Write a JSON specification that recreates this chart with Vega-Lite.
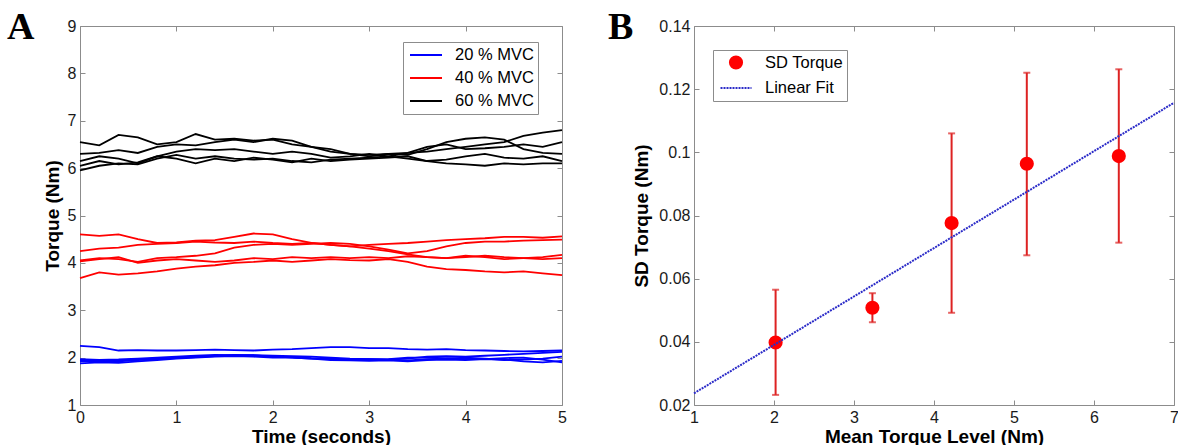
{
"$schema": "https://vega.github.io/schema/vega-lite/v6.json",
"padding": {"left": 6, "top": 8, "right": 0, "bottom": 0},
"background": "white",
"config": {
 "view": {"stroke": "#8c8c8c", "strokeWidth": 1},
 "axis": {"domain": false, "grid": false, "tickColor": "#8c8c8c", "tickSize": -5, "tickWidth": 1, "labelFont": "Liberation Sans", "labelFontSize": 16, "labelColor": "#1a1a1a", "titleFont": "Liberation Sans", "titleFontSize": 19, "titleFontWeight": "bold", "titleColor": "#000000", "labelPadding": 9, "labelFlush": false, "labelOverlap": false},
 "title": {"font": "Liberation Serif", "fontSize": 38, "fontWeight": "bold", "anchor": "start", "frame": "group", "baseline": "alphabetic", "offset": 0, "color": "#000000"},
 "legend": {"labelFont": "Liberation Sans", "labelFontSize": 16.5, "labelColor": "#000000", "strokeColor": "#8c8c8c", "fillColor": "#ffffff", "padding": 4, "labelOffset": 20, "symbolOffset": 10, "rowPadding": 5}
},
"resolve": {
 "scale": {"color": "independent", "fill": "independent", "stroke": "independent", "shape": "independent", "strokeDash": "independent", "size": "independent"},
 "legend": {"color": "independent", "fill": "independent", "stroke": "independent", "shape": "independent", "strokeDash": "independent", "size": "independent"}
},
"datasets": {
 "trq": [
{"t":0,"s":"k1","g":"60","v":6.55},{"t":0.2,"s":"k1","g":"60","v":6.48},{"t":0.4,"s":"k1","g":"60","v":6.7},{"t":0.6,"s":"k1","g":"60","v":6.65},{"t":0.8,"s":"k1","g":"60","v":6.5},{"t":1,"s":"k1","g":"60","v":6.55},{"t":1.2,"s":"k1","g":"60","v":6.72},{"t":1.4,"s":"k1","g":"60","v":6.6},{"t":1.6,"s":"k1","g":"60","v":6.62},{"t":1.8,"s":"k1","g":"60","v":6.58},{"t":2,"s":"k1","g":"60","v":6.6},{"t":2.2,"s":"k1","g":"60","v":6.5},{"t":2.4,"s":"k1","g":"60","v":6.45},{"t":2.6,"s":"k1","g":"60","v":6.4},{"t":2.8,"s":"k1","g":"60","v":6.3},{"t":3,"s":"k1","g":"60","v":6.28},{"t":3.2,"s":"k1","g":"60","v":6.3},{"t":3.4,"s":"k1","g":"60","v":6.32},{"t":3.6,"s":"k1","g":"60","v":6.35},{"t":3.8,"s":"k1","g":"60","v":6.4},{"t":4,"s":"k1","g":"60","v":6.45},{"t":4.2,"s":"k1","g":"60","v":6.5},{"t":4.4,"s":"k1","g":"60","v":6.55},{"t":4.6,"s":"k1","g":"60","v":6.68},{"t":4.8,"s":"k1","g":"60","v":6.75},{"t":5,"s":"k1","g":"60","v":6.8},
{"t":0,"s":"k2","g":"60","v":6.3},{"t":0.2,"s":"k2","g":"60","v":6.32},{"t":0.4,"s":"k2","g":"60","v":6.38},{"t":0.6,"s":"k2","g":"60","v":6.32},{"t":0.8,"s":"k2","g":"60","v":6.45},{"t":1,"s":"k2","g":"60","v":6.5},{"t":1.2,"s":"k2","g":"60","v":6.48},{"t":1.4,"s":"k2","g":"60","v":6.55},{"t":1.6,"s":"k2","g":"60","v":6.6},{"t":1.8,"s":"k2","g":"60","v":6.55},{"t":2,"s":"k2","g":"60","v":6.62},{"t":2.2,"s":"k2","g":"60","v":6.58},{"t":2.4,"s":"k2","g":"60","v":6.45},{"t":2.6,"s":"k2","g":"60","v":6.35},{"t":2.8,"s":"k2","g":"60","v":6.3},{"t":3,"s":"k2","g":"60","v":6.25},{"t":3.2,"s":"k2","g":"60","v":6.3},{"t":3.4,"s":"k2","g":"60","v":6.28},{"t":3.6,"s":"k2","g":"60","v":6.4},{"t":3.8,"s":"k2","g":"60","v":6.55},{"t":4,"s":"k2","g":"60","v":6.62},{"t":4.2,"s":"k2","g":"60","v":6.65},{"t":4.4,"s":"k2","g":"60","v":6.6},{"t":4.6,"s":"k2","g":"60","v":6.4},{"t":4.8,"s":"k2","g":"60","v":6.32},{"t":5,"s":"k2","g":"60","v":6.3},
{"t":0,"s":"k3","g":"60","v":6.15},{"t":0.2,"s":"k3","g":"60","v":6.25},{"t":0.4,"s":"k3","g":"60","v":6.2},{"t":0.6,"s":"k3","g":"60","v":6.1},{"t":0.8,"s":"k3","g":"60","v":6.25},{"t":1,"s":"k3","g":"60","v":6.35},{"t":1.2,"s":"k3","g":"60","v":6.4},{"t":1.4,"s":"k3","g":"60","v":6.38},{"t":1.6,"s":"k3","g":"60","v":6.4},{"t":1.8,"s":"k3","g":"60","v":6.35},{"t":2,"s":"k3","g":"60","v":6.3},{"t":2.2,"s":"k3","g":"60","v":6.35},{"t":2.4,"s":"k3","g":"60","v":6.3},{"t":2.6,"s":"k3","g":"60","v":6.22},{"t":2.8,"s":"k3","g":"60","v":6.25},{"t":3,"s":"k3","g":"60","v":6.3},{"t":3.2,"s":"k3","g":"60","v":6.25},{"t":3.4,"s":"k3","g":"60","v":6.32},{"t":3.6,"s":"k3","g":"60","v":6.45},{"t":3.8,"s":"k3","g":"60","v":6.5},{"t":4,"s":"k3","g":"60","v":6.4},{"t":4.2,"s":"k3","g":"60","v":6.42},{"t":4.4,"s":"k3","g":"60","v":6.45},{"t":4.6,"s":"k3","g":"60","v":6.5},{"t":4.8,"s":"k3","g":"60","v":6.45},{"t":5,"s":"k3","g":"60","v":6.55},
{"t":0,"s":"k4","g":"60","v":5.95},{"t":0.2,"s":"k4","g":"60","v":6.05},{"t":0.4,"s":"k4","g":"60","v":6.1},{"t":0.6,"s":"k4","g":"60","v":6.08},{"t":0.8,"s":"k4","g":"60","v":6.2},{"t":1,"s":"k4","g":"60","v":6.28},{"t":1.2,"s":"k4","g":"60","v":6.2},{"t":1.4,"s":"k4","g":"60","v":6.25},{"t":1.6,"s":"k4","g":"60","v":6.2},{"t":1.8,"s":"k4","g":"60","v":6.18},{"t":2,"s":"k4","g":"60","v":6.2},{"t":2.2,"s":"k4","g":"60","v":6.15},{"t":2.4,"s":"k4","g":"60","v":6.12},{"t":2.6,"s":"k4","g":"60","v":6.18},{"t":2.8,"s":"k4","g":"60","v":6.2},{"t":3,"s":"k4","g":"60","v":6.22},{"t":3.2,"s":"k4","g":"60","v":6.25},{"t":3.4,"s":"k4","g":"60","v":6.2},{"t":3.6,"s":"k4","g":"60","v":6.15},{"t":3.8,"s":"k4","g":"60","v":6.18},{"t":4,"s":"k4","g":"60","v":6.25},{"t":4.2,"s":"k4","g":"60","v":6.3},{"t":4.4,"s":"k4","g":"60","v":6.22},{"t":4.6,"s":"k4","g":"60","v":6.2},{"t":4.8,"s":"k4","g":"60","v":6.25},{"t":5,"s":"k4","g":"60","v":6.15},
{"t":0,"s":"k5","g":"60","v":6.05},{"t":0.2,"s":"k5","g":"60","v":6.15},{"t":0.4,"s":"k5","g":"60","v":6.08},{"t":0.6,"s":"k5","g":"60","v":6.12},{"t":0.8,"s":"k5","g":"60","v":6.25},{"t":1,"s":"k5","g":"60","v":6.2},{"t":1.2,"s":"k5","g":"60","v":6.1},{"t":1.4,"s":"k5","g":"60","v":6.2},{"t":1.6,"s":"k5","g":"60","v":6.15},{"t":1.8,"s":"k5","g":"60","v":6.22},{"t":2,"s":"k5","g":"60","v":6.18},{"t":2.2,"s":"k5","g":"60","v":6.12},{"t":2.4,"s":"k5","g":"60","v":6.2},{"t":2.6,"s":"k5","g":"60","v":6.15},{"t":2.8,"s":"k5","g":"60","v":6.18},{"t":3,"s":"k5","g":"60","v":6.2},{"t":3.2,"s":"k5","g":"60","v":6.22},{"t":3.4,"s":"k5","g":"60","v":6.25},{"t":3.6,"s":"k5","g":"60","v":6.15},{"t":3.8,"s":"k5","g":"60","v":6.1},{"t":4,"s":"k5","g":"60","v":6.08},{"t":4.2,"s":"k5","g":"60","v":6.05},{"t":4.4,"s":"k5","g":"60","v":6.1},{"t":4.6,"s":"k5","g":"60","v":6.08},{"t":4.8,"s":"k5","g":"60","v":6.1},{"t":5,"s":"k5","g":"60","v":6.1},
{"t":0,"s":"r1","g":"40","v":4.6},{"t":0.2,"s":"r1","g":"40","v":4.57},{"t":0.4,"s":"r1","g":"40","v":4.6},{"t":0.6,"s":"r1","g":"40","v":4.5},{"t":0.8,"s":"r1","g":"40","v":4.42},{"t":1,"s":"r1","g":"40","v":4.43},{"t":1.2,"s":"r1","g":"40","v":4.47},{"t":1.4,"s":"r1","g":"40","v":4.48},{"t":1.6,"s":"r1","g":"40","v":4.55},{"t":1.8,"s":"r1","g":"40","v":4.62},{"t":2,"s":"r1","g":"40","v":4.6},{"t":2.2,"s":"r1","g":"40","v":4.5},{"t":2.4,"s":"r1","g":"40","v":4.42},{"t":2.6,"s":"r1","g":"40","v":4.38},{"t":2.8,"s":"r1","g":"40","v":4.35},{"t":3,"s":"r1","g":"40","v":4.3},{"t":3.2,"s":"r1","g":"40","v":4.25},{"t":3.4,"s":"r1","g":"40","v":4.18},{"t":3.6,"s":"r1","g":"40","v":4.12},{"t":3.8,"s":"r1","g":"40","v":4.1},{"t":4,"s":"r1","g":"40","v":4.12},{"t":4.2,"s":"r1","g":"40","v":4.15},{"t":4.4,"s":"r1","g":"40","v":4.12},{"t":4.6,"s":"r1","g":"40","v":4.1},{"t":4.8,"s":"r1","g":"40","v":4.08},{"t":5,"s":"r1","g":"40","v":4.1},
{"t":0,"s":"r2","g":"40","v":4.25},{"t":0.2,"s":"r2","g":"40","v":4.3},{"t":0.4,"s":"r2","g":"40","v":4.32},{"t":0.6,"s":"r2","g":"40","v":4.38},{"t":0.8,"s":"r2","g":"40","v":4.4},{"t":1,"s":"r2","g":"40","v":4.42},{"t":1.2,"s":"r2","g":"40","v":4.45},{"t":1.4,"s":"r2","g":"40","v":4.43},{"t":1.6,"s":"r2","g":"40","v":4.42},{"t":1.8,"s":"r2","g":"40","v":4.45},{"t":2,"s":"r2","g":"40","v":4.42},{"t":2.2,"s":"r2","g":"40","v":4.4},{"t":2.4,"s":"r2","g":"40","v":4.42},{"t":2.6,"s":"r2","g":"40","v":4.38},{"t":2.8,"s":"r2","g":"40","v":4.35},{"t":3,"s":"r2","g":"40","v":4.38},{"t":3.2,"s":"r2","g":"40","v":4.4},{"t":3.4,"s":"r2","g":"40","v":4.42},{"t":3.6,"s":"r2","g":"40","v":4.45},{"t":3.8,"s":"r2","g":"40","v":4.48},{"t":4,"s":"r2","g":"40","v":4.5},{"t":4.2,"s":"r2","g":"40","v":4.52},{"t":4.4,"s":"r2","g":"40","v":4.55},{"t":4.6,"s":"r2","g":"40","v":4.55},{"t":4.8,"s":"r2","g":"40","v":4.53},{"t":5,"s":"r2","g":"40","v":4.56},
{"t":0,"s":"r3","g":"40","v":4.05},{"t":0.2,"s":"r3","g":"40","v":4.1},{"t":0.4,"s":"r3","g":"40","v":4.08},{"t":0.6,"s":"r3","g":"40","v":4.02},{"t":0.8,"s":"r3","g":"40","v":4.1},{"t":1,"s":"r3","g":"40","v":4.12},{"t":1.2,"s":"r3","g":"40","v":4.15},{"t":1.4,"s":"r3","g":"40","v":4.2},{"t":1.6,"s":"r3","g":"40","v":4.32},{"t":1.8,"s":"r3","g":"40","v":4.38},{"t":2,"s":"r3","g":"40","v":4.4},{"t":2.2,"s":"r3","g":"40","v":4.38},{"t":2.4,"s":"r3","g":"40","v":4.4},{"t":2.6,"s":"r3","g":"40","v":4.42},{"t":2.8,"s":"r3","g":"40","v":4.4},{"t":3,"s":"r3","g":"40","v":4.35},{"t":3.2,"s":"r3","g":"40","v":4.28},{"t":3.4,"s":"r3","g":"40","v":4.2},{"t":3.6,"s":"r3","g":"40","v":4.25},{"t":3.8,"s":"r3","g":"40","v":4.35},{"t":4,"s":"r3","g":"40","v":4.42},{"t":4.2,"s":"r3","g":"40","v":4.45},{"t":4.4,"s":"r3","g":"40","v":4.45},{"t":4.6,"s":"r3","g":"40","v":4.47},{"t":4.8,"s":"r3","g":"40","v":4.48},{"t":5,"s":"r3","g":"40","v":4.49},
{"t":0,"s":"r4","g":"40","v":4.03},{"t":0.2,"s":"r4","g":"40","v":4.08},{"t":0.4,"s":"r4","g":"40","v":4.12},{"t":0.6,"s":"r4","g":"40","v":4.0},{"t":0.8,"s":"r4","g":"40","v":4.05},{"t":1,"s":"r4","g":"40","v":4.08},{"t":1.2,"s":"r4","g":"40","v":4.05},{"t":1.4,"s":"r4","g":"40","v":4.02},{"t":1.6,"s":"r4","g":"40","v":4.05},{"t":1.8,"s":"r4","g":"40","v":4.1},{"t":2,"s":"r4","g":"40","v":4.08},{"t":2.2,"s":"r4","g":"40","v":4.12},{"t":2.4,"s":"r4","g":"40","v":4.1},{"t":2.6,"s":"r4","g":"40","v":4.12},{"t":2.8,"s":"r4","g":"40","v":4.1},{"t":3,"s":"r4","g":"40","v":4.12},{"t":3.2,"s":"r4","g":"40","v":4.1},{"t":3.4,"s":"r4","g":"40","v":4.14},{"t":3.6,"s":"r4","g":"40","v":4.12},{"t":3.8,"s":"r4","g":"40","v":4.1},{"t":4,"s":"r4","g":"40","v":4.15},{"t":4.2,"s":"r4","g":"40","v":4.12},{"t":4.4,"s":"r4","g":"40","v":4.08},{"t":4.6,"s":"r4","g":"40","v":4.1},{"t":4.8,"s":"r4","g":"40","v":4.12},{"t":5,"s":"r4","g":"40","v":4.17},
{"t":0,"s":"r5","g":"40","v":3.68},{"t":0.2,"s":"r5","g":"40","v":3.8},{"t":0.4,"s":"r5","g":"40","v":3.75},{"t":0.6,"s":"r5","g":"40","v":3.78},{"t":0.8,"s":"r5","g":"40","v":3.82},{"t":1,"s":"r5","g":"40","v":3.88},{"t":1.2,"s":"r5","g":"40","v":3.92},{"t":1.4,"s":"r5","g":"40","v":3.95},{"t":1.6,"s":"r5","g":"40","v":4.0},{"t":1.8,"s":"r5","g":"40","v":4.02},{"t":2,"s":"r5","g":"40","v":4.05},{"t":2.2,"s":"r5","g":"40","v":4.02},{"t":2.4,"s":"r5","g":"40","v":4.05},{"t":2.6,"s":"r5","g":"40","v":4.08},{"t":2.8,"s":"r5","g":"40","v":4.06},{"t":3,"s":"r5","g":"40","v":4.05},{"t":3.2,"s":"r5","g":"40","v":4.08},{"t":3.4,"s":"r5","g":"40","v":4.02},{"t":3.6,"s":"r5","g":"40","v":3.92},{"t":3.8,"s":"r5","g":"40","v":3.87},{"t":4,"s":"r5","g":"40","v":3.85},{"t":4.2,"s":"r5","g":"40","v":3.82},{"t":4.4,"s":"r5","g":"40","v":3.8},{"t":4.6,"s":"r5","g":"40","v":3.82},{"t":4.8,"s":"r5","g":"40","v":3.78},{"t":5,"s":"r5","g":"40","v":3.74},
{"t":0,"s":"b1","g":"20","v":2.25},{"t":0.2,"s":"b1","g":"20","v":2.22},{"t":0.4,"s":"b1","g":"20","v":2.15},{"t":0.6,"s":"b1","g":"20","v":2.16},{"t":0.8,"s":"b1","g":"20","v":2.15},{"t":1,"s":"b1","g":"20","v":2.15},{"t":1.2,"s":"b1","g":"20","v":2.16},{"t":1.4,"s":"b1","g":"20","v":2.17},{"t":1.6,"s":"b1","g":"20","v":2.16},{"t":1.8,"s":"b1","g":"20","v":2.15},{"t":2,"s":"b1","g":"20","v":2.17},{"t":2.2,"s":"b1","g":"20","v":2.18},{"t":2.4,"s":"b1","g":"20","v":2.2},{"t":2.6,"s":"b1","g":"20","v":2.22},{"t":2.8,"s":"b1","g":"20","v":2.22},{"t":3,"s":"b1","g":"20","v":2.2},{"t":3.2,"s":"b1","g":"20","v":2.2},{"t":3.4,"s":"b1","g":"20","v":2.18},{"t":3.6,"s":"b1","g":"20","v":2.17},{"t":3.8,"s":"b1","g":"20","v":2.18},{"t":4,"s":"b1","g":"20","v":2.16},{"t":4.2,"s":"b1","g":"20","v":2.15},{"t":4.4,"s":"b1","g":"20","v":2.14},{"t":4.6,"s":"b1","g":"20","v":2.13},{"t":4.8,"s":"b1","g":"20","v":2.14},{"t":5,"s":"b1","g":"20","v":2.15},
{"t":0,"s":"b2","g":"20","v":1.97},{"t":0.2,"s":"b2","g":"20","v":1.95},{"t":0.4,"s":"b2","g":"20","v":1.96},{"t":0.6,"s":"b2","g":"20","v":1.98},{"t":0.8,"s":"b2","g":"20","v":2.0},{"t":1,"s":"b2","g":"20","v":2.02},{"t":1.2,"s":"b2","g":"20","v":2.04},{"t":1.4,"s":"b2","g":"20","v":2.06},{"t":1.6,"s":"b2","g":"20","v":2.05},{"t":1.8,"s":"b2","g":"20","v":2.04},{"t":2,"s":"b2","g":"20","v":2.03},{"t":2.2,"s":"b2","g":"20","v":2.0},{"t":2.4,"s":"b2","g":"20","v":1.98},{"t":2.6,"s":"b2","g":"20","v":1.97},{"t":2.8,"s":"b2","g":"20","v":1.96},{"t":3,"s":"b2","g":"20","v":1.97},{"t":3.2,"s":"b2","g":"20","v":1.96},{"t":3.4,"s":"b2","g":"20","v":1.98},{"t":3.6,"s":"b2","g":"20","v":2.02},{"t":3.8,"s":"b2","g":"20","v":2.03},{"t":4,"s":"b2","g":"20","v":2.02},{"t":4.2,"s":"b2","g":"20","v":2.04},{"t":4.4,"s":"b2","g":"20","v":2.06},{"t":4.6,"s":"b2","g":"20","v":2.08},{"t":4.8,"s":"b2","g":"20","v":2.1},{"t":5,"s":"b2","g":"20","v":2.12},
{"t":0,"s":"b3","g":"20","v":1.92},{"t":0.2,"s":"b3","g":"20","v":1.93},{"t":0.4,"s":"b3","g":"20","v":1.92},{"t":0.6,"s":"b3","g":"20","v":1.95},{"t":0.8,"s":"b3","g":"20","v":1.97},{"t":1,"s":"b3","g":"20","v":2.0},{"t":1.2,"s":"b3","g":"20","v":2.02},{"t":1.4,"s":"b3","g":"20","v":2.04},{"t":1.6,"s":"b3","g":"20","v":2.06},{"t":1.8,"s":"b3","g":"20","v":2.05},{"t":2,"s":"b3","g":"20","v":2.04},{"t":2.2,"s":"b3","g":"20","v":2.03},{"t":2.4,"s":"b3","g":"20","v":2.02},{"t":2.6,"s":"b3","g":"20","v":2.0},{"t":2.8,"s":"b3","g":"20","v":1.98},{"t":3,"s":"b3","g":"20","v":1.97},{"t":3.2,"s":"b3","g":"20","v":1.95},{"t":3.4,"s":"b3","g":"20","v":1.94},{"t":3.6,"s":"b3","g":"20","v":1.97},{"t":3.8,"s":"b3","g":"20","v":1.98},{"t":4,"s":"b3","g":"20","v":2.0},{"t":4.2,"s":"b3","g":"20","v":1.98},{"t":4.4,"s":"b3","g":"20","v":1.95},{"t":4.6,"s":"b3","g":"20","v":1.96},{"t":4.8,"s":"b3","g":"20","v":1.98},{"t":5,"s":"b3","g":"20","v":2.02},
{"t":0,"s":"b4","g":"20","v":1.88},{"t":0.2,"s":"b4","g":"20","v":1.9},{"t":0.4,"s":"b4","g":"20","v":1.89},{"t":0.6,"s":"b4","g":"20","v":1.92},{"t":0.8,"s":"b4","g":"20","v":1.95},{"t":1,"s":"b4","g":"20","v":1.98},{"t":1.2,"s":"b4","g":"20","v":2.0},{"t":1.4,"s":"b4","g":"20","v":2.02},{"t":1.6,"s":"b4","g":"20","v":2.03},{"t":1.8,"s":"b4","g":"20","v":2.02},{"t":2,"s":"b4","g":"20","v":2.0},{"t":2.2,"s":"b4","g":"20","v":2.0},{"t":2.4,"s":"b4","g":"20","v":1.98},{"t":2.6,"s":"b4","g":"20","v":1.95},{"t":2.8,"s":"b4","g":"20","v":1.94},{"t":3,"s":"b4","g":"20","v":1.93},{"t":3.2,"s":"b4","g":"20","v":1.94},{"t":3.4,"s":"b4","g":"20","v":1.92},{"t":3.6,"s":"b4","g":"20","v":1.95},{"t":3.8,"s":"b4","g":"20","v":1.96},{"t":4,"s":"b4","g":"20","v":1.95},{"t":4.2,"s":"b4","g":"20","v":1.97},{"t":4.4,"s":"b4","g":"20","v":1.96},{"t":4.6,"s":"b4","g":"20","v":1.92},{"t":4.8,"s":"b4","g":"20","v":1.9},{"t":5,"s":"b4","g":"20","v":1.93},
{"t":0,"s":"b5","g":"20","v":1.95},{"t":0.2,"s":"b5","g":"20","v":1.92},{"t":0.4,"s":"b5","g":"20","v":1.94},{"t":0.6,"s":"b5","g":"20","v":1.97},{"t":0.8,"s":"b5","g":"20","v":1.98},{"t":1,"s":"b5","g":"20","v":1.99},{"t":1.2,"s":"b5","g":"20","v":2.01},{"t":1.4,"s":"b5","g":"20","v":2.03},{"t":1.6,"s":"b5","g":"20","v":2.04},{"t":1.8,"s":"b5","g":"20","v":2.05},{"t":2,"s":"b5","g":"20","v":2.02},{"t":2.2,"s":"b5","g":"20","v":2.01},{"t":2.4,"s":"b5","g":"20","v":1.99},{"t":2.6,"s":"b5","g":"20","v":1.98},{"t":2.8,"s":"b5","g":"20","v":1.97},{"t":3,"s":"b5","g":"20","v":1.96},{"t":3.2,"s":"b5","g":"20","v":1.97},{"t":3.4,"s":"b5","g":"20","v":2.0},{"t":3.6,"s":"b5","g":"20","v":2.0},{"t":3.8,"s":"b5","g":"20","v":1.99},{"t":4,"s":"b5","g":"20","v":1.98},{"t":4.2,"s":"b5","g":"20","v":1.97},{"t":4.4,"s":"b5","g":"20","v":1.99},{"t":4.6,"s":"b5","g":"20","v":2.0},{"t":4.8,"s":"b5","g":"20","v":1.96},{"t":5,"s":"b5","g":"20","v":1.9}
 ],
 "pts": [
  {"m":2.02,"sd":0.0398,"lo":0.0232,"hi":0.0565,"lbl":"SD Torque"},
  {"m":3.23,"sd":0.0508,"lo":0.0462,"hi":0.0554,"lbl":"SD Torque"},
  {"m":4.22,"sd":0.0776,"lo":0.0492,"hi":0.106,"lbl":"SD Torque"},
  {"m":5.16,"sd":0.0964,"lo":0.0674,"hi":0.1252,"lbl":"SD Torque"},
  {"m":6.31,"sd":0.0988,"lo":0.0714,"hi":0.1263,"lbl":"SD Torque"}
 ],
 "fit": [
  {"m":1,"sd":0.0237},
  {"m":7,"sd":0.1157}
 ]
},
"spacing": 40,
"hconcat": [
 {
  "width": 482, "height": 379,
  "title": {"text": "A", "dx": -73, "dy": 33},
  "layer": [
   {
    "data": {"name": "trq"},
    "mark": {"type": "line", "strokeWidth": 1.8},
    "encoding": {
     "x": {"field": "t", "type": "quantitative", "scale": {"domain": [0, 5], "nice": false, "zero": false},
           "axis": {"orient": "bottom", "title": "Time (seconds)", "values": [0, 1, 2, 3, 4, 5], "titlePadding": 2}},
     "y": {"field": "v", "type": "quantitative", "scale": {"domain": [1, 9], "nice": false, "zero": false},
           "axis": {"orient": "left", "title": "Torque (Nm)", "values": [1, 2, 3, 4, 5, 6, 7, 8, 9], "titlePadding": 5}},
     "color": {"field": "g", "type": "nominal",
               "scale": {"domain": ["20", "40", "60"], "range": ["#0000ff", "#ff0000", "#000000"]},
               "legend": {"orient": "none", "legendX": 323, "legendY": 16, "title": null, "symbolType": "M-2,0H2", "symbolSize": 256, "symbolStrokeWidth": 2, "labelExpr": "datum.label + ' % MVC'"}},
     "detail": {"field": "s", "type": "nominal"}
    }
   },
   {
    "data": {"values": [{"t": 0, "v": 1}]},
    "mark": {"type": "point", "opacity": 0},
    "encoding": {
     "x": {"field": "t", "type": "quantitative", "axis": {"orient": "top", "labels": false, "title": null, "values": [0, 1, 2, 3, 4, 5]}},
     "y": {"field": "v", "type": "quantitative", "axis": {"orient": "right", "labels": false, "title": null, "values": [1, 2, 3, 4, 5, 6, 7, 8, 9]}}
    }
   }
  ]
 },
 {
  "width": 480, "height": 379,
  "title": {"text": "B", "dx": -86, "dy": 33},
  "layer": [
   {
    "data": {"name": "pts"},
    "mark": {"type": "errorbar", "color": "#dd2222", "rule": {"strokeWidth": 2}, "ticks": {"size": 7, "thickness": 2}},
    "encoding": {
     "x": {"field": "m", "type": "quantitative", "axis": null},
     "y": {"field": "lo", "type": "quantitative", "axis": null},
     "y2": {"field": "hi"}
    }
   },
   {
    "data": {"name": "pts"},
    "mark": {"type": "point", "filled": true, "opacity": 1, "strokeWidth": 2},
    "encoding": {
     "x": {"field": "m", "type": "quantitative", "scale": {"domain": [1, 7], "nice": false, "zero": false},
           "axis": {"orient": "bottom", "title": "Mean Torque Level (Nm)", "values": [1, 2, 3, 4, 5, 6, 7], "titlePadding": 2}},
     "y": {"field": "sd", "type": "quantitative", "scale": {"domain": [0.02, 0.14], "nice": false, "zero": false},
           "axis": {"orient": "left", "title": "SD Torque (Nm)", "values": [0.02, 0.04, 0.06, 0.08, 0.1, 0.12, 0.14], "format": ".2~f", "titlePadding": 7}},
     "fill": {"field": "lbl", "type": "nominal",
              "scale": {"domain": ["SD Torque", "Linear Fit"], "range": ["#ff0000", "transparent"]},
              "legend": {"orient": "none", "legendX": 19, "legendY": 24, "title": null, "symbolStrokeWidth": 2}},
     "stroke": {"field": "lbl", "type": "nominal",
                "scale": {"domain": ["SD Torque", "Linear Fit"], "range": ["transparent", "#2b2bc8"]}},
     "shape": {"field": "lbl", "type": "nominal",
               "scale": {"domain": ["SD Torque", "Linear Fit"], "range": ["circle", "M-2,0H2"]}},
     "strokeDash": {"field": "lbl", "type": "nominal",
               "scale": {"domain": ["SD Torque", "Linear Fit"], "range": [[1, 0], [2, 1]]}},
     "size": {"field": "lbl", "type": "nominal",
              "scale": {"domain": ["SD Torque", "Linear Fit"], "range": [200, 240]}}
    }
   },
   {
    "data": {"name": "fit"},
    "mark": {"type": "line", "strokeWidth": 2, "strokeDash": [2, 1], "color": "#2b2bc8"},
    "encoding": {
     "x": {"field": "m", "type": "quantitative", "axis": null},
     "y": {"field": "sd", "type": "quantitative", "axis": null}
    }
   },
   {
    "data": {"values": [{"m": 1, "sd": 0.02}]},
    "mark": {"type": "point", "opacity": 0},
    "encoding": {
     "x": {"field": "m", "type": "quantitative", "axis": {"orient": "top", "labels": false, "title": null, "values": [1, 2, 3, 4, 5, 6, 7]}},
     "y": {"field": "sd", "type": "quantitative", "axis": {"orient": "right", "labels": false, "title": null, "values": [0.02, 0.04, 0.06, 0.08, 0.1, 0.12, 0.14]}}
    }
   }
  ]
 }
]
}
